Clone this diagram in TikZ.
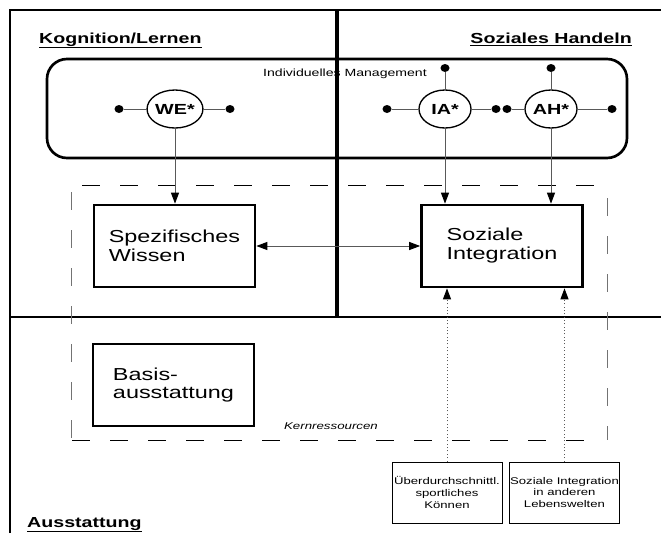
\documentclass[tikz,border=0pt]{standalone}
\usepackage{fontspec}
\setmainfont{Liberation Sans}[FakeStretch=1.35]
\usetikzlibrary{shapes.geometric,arrows.meta}

\tikzset{
  frameline/.style={line width=0.8mm},
  heading/.style={font=\fontsize{12.4}{14}\selectfont\bfseries, inner sep=0pt},
  resbox/.style={draw, line width=0.8mm, minimum width=48.3mm, minimum height=24.6mm,
    align=left, font=\fontsize{14.8}{16.2}\selectfont},
  actor/.style={draw, ellipse, line width=0.4mm, minimum width=15.6mm, minimum height=11.4mm,
    inner sep=0pt, font=\fontsize{12.5}{14}\selectfont\bfseries},
  pin/.style={fill, ellipse, minimum width=2.7mm, minimum height=2.4mm, inner sep=0pt},
  link/.style={draw=black!65, line width=0.3mm},
  feed/.style={link, -{Triangle[length=3.3mm, width=2.4mm, color=black]}},
  extbox/.style={draw, line width=0.3mm, minimum width=33mm, minimum height=18.3mm,
    inner sep=0pt, align=center, font=\fontsize{8.3}{10}\selectfont},
  kernline/.style={line width=0.3mm, dash pattern=on 5.4mm off 6mm},
}

\begin{document}
\begin{tikzpicture}[x=0.3mm, y=-0.3mm]
  \useasboundingbox (0,0) rectangle (661,533);

  % ---------- frame and quadrants ----------
  \draw[frameline] (10,533) -- (10,10) -- (661,10);
  \draw[line width=0.95mm] (337,10) -- (337,317);
  \draw[line width=0.45mm] (10,317) -- (661,317);

  \node[heading, anchor=base west] (kogn) at (39,43) {\underline{Kognition/Lernen}};
  \node[heading, anchor=base east] (handeln) at (632,43) {\underline{Soziales Handeln}};
  \node[heading, anchor=base west] (ausst) at (27,527) {\underline{Ausstattung}};

  % ---------- individual management ----------
  \draw[line width=0.8mm, rounded corners=6mm] (47,59) rectangle (627,158);
  \node[font=\fontsize{8.9}{10}\selectfont] (mgmt) at (345,74) {Individuelles Management};

  \node[actor] (we) at (175,109) {WE*};
  \node[actor] (ia) at (445,109) {IA*};
  \node[actor] (ah) at (551,109) {AH*};

  \node[pin] (we-l) at (119,109) {};
  \node[pin] (we-r) at (230,109) {};
  \node[pin] (ia-l) at (387,109) {};
  \node[pin] (ia-r) at (496,109) {};
  \node[pin] (ia-t) at (445,68) {};
  \node[pin] (ah-l) at (507,109) {};
  \node[pin] (ah-r) at (612,109) {};
  \node[pin] (ah-t) at (551,68) {};

  \draw[link] (we-l) -- (we) -- (we-r);
  \draw[link] (ia-l) -- (ia) -- (ia-r);
  \draw[link] (ia-t) -- (ia);
  \draw[link] (ah-l) -- (ah) -- (ah-r);
  \draw[link] (ah-t) -- (ah);

  % ---------- core resources ----------
  \draw[kernline] (82,185) -- (603,185);
  \draw[kernline] (72,440) -- (603,440);
  \draw[kernline, draw=black!55] (71,192) -- (71,440);
  \draw[kernline, draw=black!55] (607,198) -- (607,440);
  \node[font=\fontsize{8.4}{10}\selectfont\itshape] (kern) at (331,426) {Kernressourcen};

  \node[resbox] (wissen) at (174.5,246) {Spezifisches\\Wissen};
  \node[resbox] (integr) at (502,246) {Soziale\\Integration};
  \node[resbox] (basis) at (173.5,385) {Basis-\\ausstattung};

  \draw[feed] (we) -- (we |- wissen.north);
  \draw[feed] (ia) -- (ia |- integr.north);
  \draw[feed] (ah) -- (ah |- integr.north);
  \draw[link, {Triangle[length=3.3mm, width=2.4mm, color=black]}-{Triangle[length=3.3mm, width=2.4mm, color=black]}]
    (wissen) -- (integr);

  % ---------- external resources ----------
  \node[extbox] (sport) at (447,492.5) {Überdurchschnittl.\\sportliches\\Können};
  \node[extbox] (welten) at (564.5,492.5) {Soziale Integration\\in anderen\\Lebenswelten};

  \draw[feed, dotted] (sport) -- (sport |- integr.south);
  \draw[feed, dotted] (welten) -- (welten |- integr.south);

\end{tikzpicture}
\end{document}
